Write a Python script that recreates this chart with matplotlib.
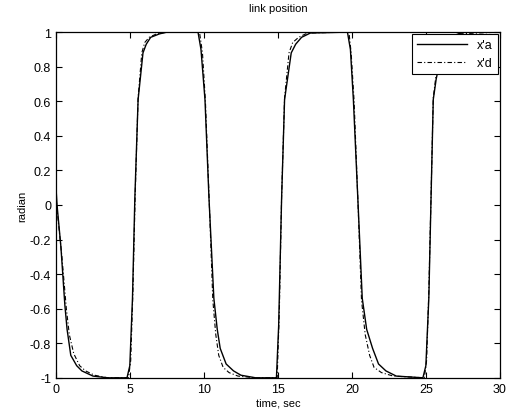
import numpy as np
import matplotlib.pyplot as plt

# values
t_a = [0, 0.07, 0.33, 0.6, 0.75, 1.0, 1.4, 1.75, 2.5, 3.5,
       4.8, 4.99, 5.17, 5.33, 5.55, 5.88, 6.1, 6.4, 7.0, 7.5,
       9.6, 9.8, 10.07, 10.34, 10.67, 10.9, 11.1, 11.5, 12.0, 12.5,
       13.5, 14.9, 15.05, 15.25, 15.45, 15.9, 16.2, 16.6, 17.2,
       19.7, 19.9, 20.1, 20.4, 20.7, 21.0, 21.4, 21.8, 22.3, 23.0,
       24.8, 25.0, 25.2, 25.35, 25.5, 25.7, 26.0, 26.4, 26.9, 27.5, 30]
x_a = [0.1, 0.0, -0.24, -0.58, -0.72, -0.87, -0.93, -0.96, -0.99, -1.0,
       -1.0, -0.93, -0.54, 0.04, 0.61, 0.88, 0.93, 0.97, 0.99, 1.0,
       1.0, 0.9, 0.61, 0.04, -0.54, -0.72, -0.83, -0.92, -0.96, -0.985,
       -1.0, -1.0, -0.7, 0.04, 0.61, 0.88, 0.93, 0.97, 0.995,
       1.0, 0.9, 0.61, 0.04, -0.54, -0.72, -0.83, -0.92, -0.96, -0.99,
       -1.0, -0.93, -0.54, 0.04, 0.61, 0.73, 0.85, 0.93, 0.98, 1.0, 1.0]

t_d = [0, 0.1, 0.4, 0.7, 0.9, 1.2, 1.6, 2.0, 2.6, 3.5,
       4.9, 5.05, 5.2, 5.35, 5.55, 5.8, 6.0, 6.3, 6.8, 7.5,
       9.7, 9.9, 10.1, 10.35, 10.6, 10.8, 11.0, 11.3, 11.7, 12.3,
       13.5, 14.95, 15.1, 15.25, 15.45, 15.75, 16.0, 16.4, 17.0,
       19.8, 19.95, 20.15, 20.4, 20.65, 20.9, 21.2, 21.5, 22.0, 22.8,
       24.9, 25.05, 25.2, 25.35, 25.5, 25.7, 26.0, 26.5, 27.2, 30]
x_d = [0.05, -0.05, -0.3, -0.6, -0.75, -0.86, -0.93, -0.96, -0.985, -1.0,
       -1.0, -0.9, -0.5, 0.05, 0.62, 0.88, 0.94, 0.97, 0.99, 1.0,
       1.0, 0.88, 0.6, 0.04, -0.55, -0.75, -0.87, -0.94, -0.97, -0.99,
       -1.0, -1.0, -0.6, 0.05, 0.62, 0.88, 0.94, 0.97, 0.995,
       1.0, 0.88, 0.6, 0.04, -0.55, -0.75, -0.87, -0.94, -0.97, -0.99,
       -1.0, -0.9, -0.5, 0.05, 0.62, 0.76, 0.88, 0.95, 0.99, 1.0]

xticks = [0, 5, 10, 15, 20, 25, 30]
yticks = [-1, -0.8, -0.6, -0.4, -0.2, 0, 0.2, 0.4, 0.6, 0.8, 1]
ylabels = ['-1', '-0.8', '-0.6', '-0.4', '-0.2', '0', '0.2', '0.4', '0.6', '0.8', '1']

plt.rcParams['font.family'] = ['Liberation Sans', 'DejaVu Sans']
fig = plt.figure(figsize=(5.09, 4.14), dpi=100)
ax = fig.add_axes([0.110, 0.085, 0.872, 0.835])

ax.plot(t_a, x_a, color='black', lw=1.0, label="x'a")
ax.plot(t_d, x_d, color='black', lw=0.8, linestyle=(0, (4, 2, 1, 2)), label="x'd")

ax.set_xlim(0, 30)
ax.set_ylim(-1, 1)
ax.set_xticks(xticks)
ax.set_yticks(yticks)
ax.set_yticklabels(ylabels)
ax.tick_params(direction='in', top=True, right=True, labelsize=9, length=4, width=0.8)
for s in ax.spines.values():
    s.set_linewidth(0.9)

ax.set_title('link position', fontsize=8, pad=15)
ax.set_xlabel('time, sec', fontsize=8, labelpad=2)
ax.set_ylabel('radian', fontsize=8, labelpad=2)

leg = ax.legend(loc='upper right', fontsize=9, fancybox=False, framealpha=1,
                edgecolor='black', handlelength=4, borderaxespad=0.15)
leg.get_frame().set_linewidth(0.8)

fig.savefig('out.png', dpi=100)
